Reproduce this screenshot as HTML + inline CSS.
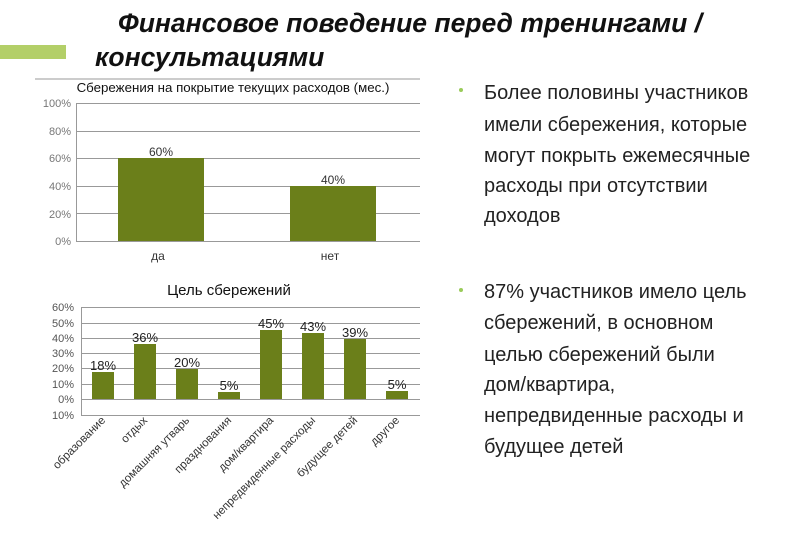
<!DOCTYPE html>
<html><head><meta charset="utf-8"><style>
body{margin:0;background:#fff;}
svg{display:block;font-family:"Liberation Sans",sans-serif;}
</style></head><body>
<svg width="800" height="554" xmlns="http://www.w3.org/2000/svg">
<rect x="0" y="45" width="66" height="14" fill="#b3cf68"/>
<text x="118" y="32" font-size="26.5" font-weight="bold" font-style="italic" fill="#111">Финансовое поведение перед тренингами /</text>
<text x="95" y="66" font-size="26.5" font-weight="bold" font-style="italic" fill="#111">консультациями</text>
<line x1="35" y1="79" x2="420" y2="79" stroke="#999" stroke-width="1"/>
<text x="233" y="92" font-size="13.3" text-anchor="middle" fill="#111">Сбережения на покрытие текущих расходов (мес.)</text>
<g font-size="11" fill="#777" text-anchor="end">
<text x="71" y="107">100%</text><text x="71" y="135">80%</text><text x="71" y="162">60%</text>
<text x="71" y="190">40%</text><text x="71" y="218">20%</text><text x="71" y="245">0%</text>
</g>
<g stroke="#999" stroke-width="1">
<line x1="76" y1="103.5" x2="420" y2="103.5"/><line x1="76" y1="131.5" x2="420" y2="131.5"/>
<line x1="76" y1="158.5" x2="420" y2="158.5"/><line x1="76" y1="186.5" x2="420" y2="186.5"/>
<line x1="76" y1="213.5" x2="420" y2="213.5"/><line x1="76" y1="241.5" x2="420" y2="241.5"/>
<line x1="76.5" y1="103" x2="76.5" y2="241"/>
</g>
<rect x="118" y="158" width="86" height="83" fill="#6b7f1a"/>
<rect x="290" y="186" width="86" height="55" fill="#6b7f1a"/>
<text x="161" y="156" font-size="12" text-anchor="middle" fill="#333">60%</text>
<text x="333" y="184" font-size="12" text-anchor="middle" fill="#333">40%</text>
<text x="158" y="260" font-size="12" text-anchor="middle" fill="#333">да</text>
<text x="330" y="260" font-size="12" text-anchor="middle" fill="#333">нет</text>

<text x="229" y="295" font-size="15" text-anchor="middle" fill="#111">Цель сбережений</text>
<g font-size="11" fill="#555" text-anchor="end">
<text x="74" y="311">60%</text><text x="74" y="327">50%</text><text x="74" y="342">40%</text>
<text x="74" y="357">30%</text><text x="74" y="372">20%</text><text x="74" y="388">10%</text>
<text x="74" y="403">0%</text><text x="74" y="419">10%</text>
</g>
<g stroke="#999" stroke-width="1">
<line x1="81" y1="307.5" x2="420" y2="307.5"/><line x1="81" y1="323.5" x2="420" y2="323.5"/>
<line x1="81" y1="338.5" x2="420" y2="338.5"/><line x1="81" y1="353.5" x2="420" y2="353.5"/>
<line x1="81" y1="368.5" x2="420" y2="368.5"/><line x1="81" y1="384.5" x2="420" y2="384.5"/>
<line x1="81" y1="399.5" x2="420" y2="399.5"/><line x1="81" y1="415.5" x2="420" y2="415.5"/>
<line x1="81.5" y1="307" x2="81.5" y2="415"/>
</g>
<g fill="#6b7f1a">
<rect x="92" y="372" width="22" height="27"/>
<rect x="134" y="344" width="22" height="55"/>
<rect x="176" y="369" width="22" height="30"/>
<rect x="218" y="392" width="22" height="7"/>
<rect x="260" y="330" width="22" height="69"/>
<rect x="302" y="333" width="22" height="66"/>
<rect x="344" y="339" width="22" height="60"/>
<rect x="386" y="391" width="22" height="8"/>
</g>
<g font-size="13" text-anchor="middle" fill="#222">
<text x="103" y="370">18%</text><text x="145" y="342">36%</text><text x="187" y="367">20%</text>
<text x="229" y="390">5%</text><text x="271" y="328">45%</text><text x="313" y="331">43%</text>
<text x="355" y="337">39%</text><text x="397" y="389">5%</text>
</g>
<g font-size="11.5" fill="#333" text-anchor="end">
<text transform="translate(106,421) rotate(-45)">образование</text>
<text transform="translate(148,421) rotate(-45)">отдых</text>
<text transform="translate(190,421) rotate(-45)">домашняя утварь</text>
<text transform="translate(232,421) rotate(-45)">празднования</text>
<text transform="translate(274,421) rotate(-45)">дом/квартира</text>
<text transform="translate(316,421) rotate(-45)">непредвиденные расходы</text>
<text transform="translate(358,421) rotate(-45)">будущее детей</text>
<text transform="translate(400,421) rotate(-45)">другое</text>
</g>

<g font-size="20" fill="#222">
<circle cx="461" cy="90" r="2" fill="#9acb5a"/>
<text x="484" y="99">Более половины участников</text>
<text x="484" y="131">имели сбережения, которые</text>
<text x="484" y="162">могут покрыть ежемесячные</text>
<text x="484" y="192">расходы при отсутствии</text>
<text x="484" y="222">доходов</text>
<circle cx="461" cy="290" r="2" fill="#9acb5a"/>
<text x="484" y="298">87% участников имело цель</text>
<text x="484" y="329">сбережений, в основном</text>
<text x="484" y="361">целью сбережений были</text>
<text x="484" y="391">дом/квартира,</text>
<text x="484" y="422">непредвиденные расходы и</text>
<text x="484" y="453">будущее детей</text>
</g>
</svg>
</body></html>
